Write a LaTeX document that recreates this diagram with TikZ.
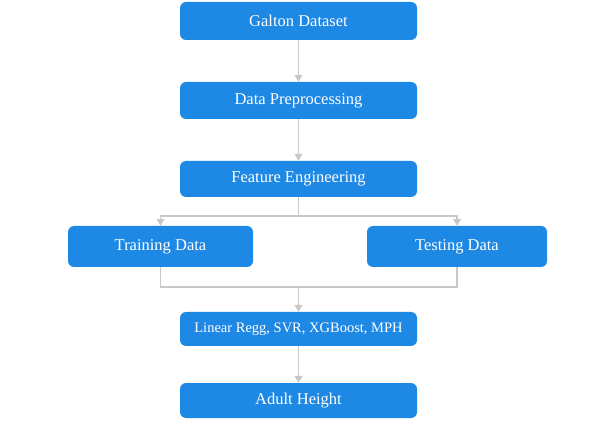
\documentclass[tikz,border=0pt]{standalone}
\usepackage{fontspec}
\setmainfont{Liberation Serif}
\newfontfamily\boxfont{Liberation Serif}
\usetikzlibrary{arrows.meta}
\definecolor{boxblue}{HTML}{1E88E5}
\definecolor{linegray}{HTML}{C8C8C8}
\tikzset{
  box/.style={fill=boxblue, draw=none, rounded corners=6pt, text=white, font=\boxfont\fontsize{16.5}{19}\selectfont, inner sep=0pt, minimum width=237pt},
  conn/.style={draw=linegray, line width=1.2pt},
  arr/.style={conn, -{Triangle[length=7pt,width=8pt]}}
}
\begin{document}
\begin{tikzpicture}[x=1pt,y=-1pt]
\useasboundingbox (0,0) rectangle (602,427);
\node[box, minimum height=38pt] (g) at (298.5,21) {Galton Dataset};
\node[box, minimum height=37pt] (dp) at (298.5,100.5) {Data Preprocessing};
\node[box, minimum height=36pt] (fe) at (298.5,179) {Feature Engineering};
\node[box, minimum width=185pt, minimum height=41pt] (tr) at (160.5,246.5) {Training Data};
\node[box, minimum width=180pt, minimum height=41pt] (te) at (457,246.5) {Testing Data};
\node[box, minimum height=34pt, font=\boxfont\fontsize{14.5}{17}\selectfont] (mo) at (298.5,329) {Linear Regg, SVR, XGBoost, MPH};
\node[box, minimum height=35pt] (ah) at (298.5,400.5) {Adult Height};
\coordinate (bs) at (298.5,216);
\coordinate (ms) at (298.5,287);
\draw[arr] (g) -- (dp);
\draw[arr] (dp) -- (fe);
\draw[conn] (fe.south) -- (bs);
\draw[arr] (bs) -| (tr.north);
\draw[arr] (bs) -| (te.north);
\draw[conn] (tr.south) |- (ms);
\draw[conn] (te.south) |- (ms);
\draw[arr] (ms) -- (mo.north);
\draw[arr] (mo) -- (ah);
\end{tikzpicture}
\end{document}
